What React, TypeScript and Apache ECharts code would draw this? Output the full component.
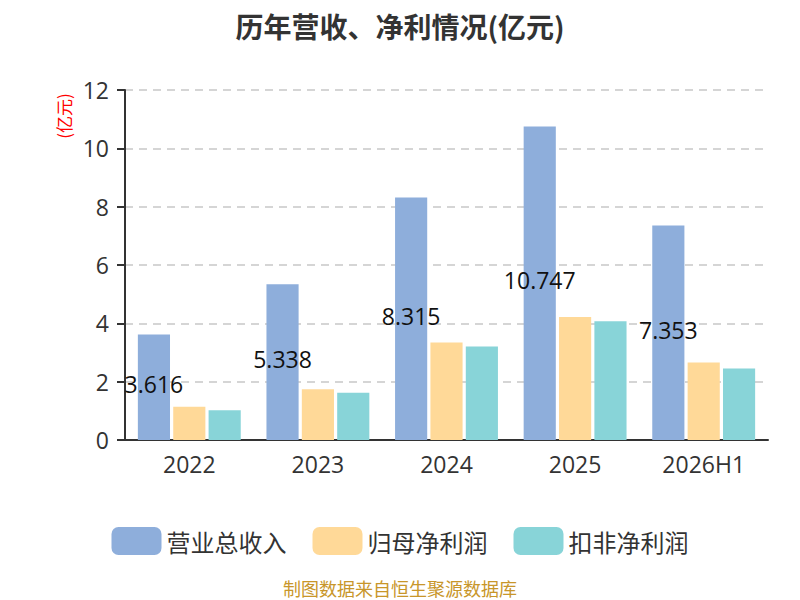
import React, { useEffect, useRef } from "react";
import * as echarts from "echarts";

const categories = ["2022", "2023", "2024", "2025", "2026H1"];
const seriesNames = ["营业总收入", "归母净利润", "扣非净利润"];
const revenue = [3.616, 5.338, 8.315, 10.747, 7.353];
const netProfit = [1.14, 1.74, 3.34, 4.22, 2.66];
const deductedProfit = [1.02, 1.62, 3.21, 4.07, 2.45];
const colors = ["#8eaedb", "#ffd998", "#88d4d8"];

const CJK = "'Noto Sans CJK SC', 'Open Sans', sans-serif";
const NUM = "'Open Sans', 'Noto Sans CJK SC', sans-serif";

export default function App() {
  const ref = useRef<HTMLDivElement>(null);
  useEffect(() => {
    document.body.style.margin = "0";
    if (!ref.current) return;
    const chart = echarts.init(ref.current, null, { renderer: "svg" });
    const data = [revenue, netProfit, deductedProfit];
    chart.setOption({
      animation: false,
      textStyle: { fontFamily: CJK },
      title: {
        text: "历年营收、净利情况(亿元)",
        left: "center",
        top: 7,
        textStyle: { fontSize: 28, fontWeight: "bold", color: "#333", fontFamily: CJK },
      },
      legend: {
        top: 522,
        left: "center",
        itemWidth: 50,
        itemHeight: 28,
        itemGap: 26,
        icon: "roundRect",
        textStyle: { fontSize: 24, color: "#333", fontFamily: CJK },
        data: seriesNames,
      },
      grid: { left: 125, right: 32, top: 90, bottom: 160, containLabel: false },
      xAxis: {
        type: "category",
        data: categories,
        axisLine: { lineStyle: { color: "#333", width: 2 } },
        axisTick: { lineStyle: { color: "#333", width: 2 }, length: 8 },
        axisLabel: { fontSize: 23, color: "#333", margin: 12, fontFamily: NUM },
      },
      yAxis: {
        type: "value",
        min: 0,
        max: 12,
        interval: 2,
        axisLine: { show: true, lineStyle: { color: "#333", width: 2 } },
        axisTick: { show: true, lineStyle: { color: "#333", width: 2 }, length: 8 },
        axisLabel: { fontSize: 23, color: "#333", margin: 16, fontFamily: NUM },
        splitLine: { lineStyle: { color: "#c8c8c8", type: [8, 6], width: 1.5 } },
      },
      graphic: [
        {
          type: "text",
          x: 63,
          y: 116,
          rotation: Math.PI / 2,
          style: {
            text: "(亿元)",
            fill: "#ff0000",
            fontSize: 17,
            fontFamily: CJK,
            textAlign: "center",
            textVerticalAlign: "middle",
          },
        },
        {
          type: "text",
          x: 400,
          y: 588,
          style: {
            text: "制图数据来自恒生聚源数据库",
            fill: "#c8962a",
            fontSize: 18,
            fontFamily: CJK,
            textAlign: "center",
            textVerticalAlign: "middle",
          },
        },
      ],
      series: seriesNames.map((name, i) => ({
        name,
        type: "bar",
        data: data[i],
        barGap: "10%",
        barCategoryGap: "20%",
        itemStyle: { color: colors[i] },
        label:
          i === 0
            ? { show: true, position: "inside", offset: [0, -3], color: "#111", fontSize: 23, fontFamily: NUM }
            : { show: false },
      })),
    });
    return () => chart.dispose();
  }, []);
  return <div ref={ref} style={{ width: 800, height: 600 }} />;
}
